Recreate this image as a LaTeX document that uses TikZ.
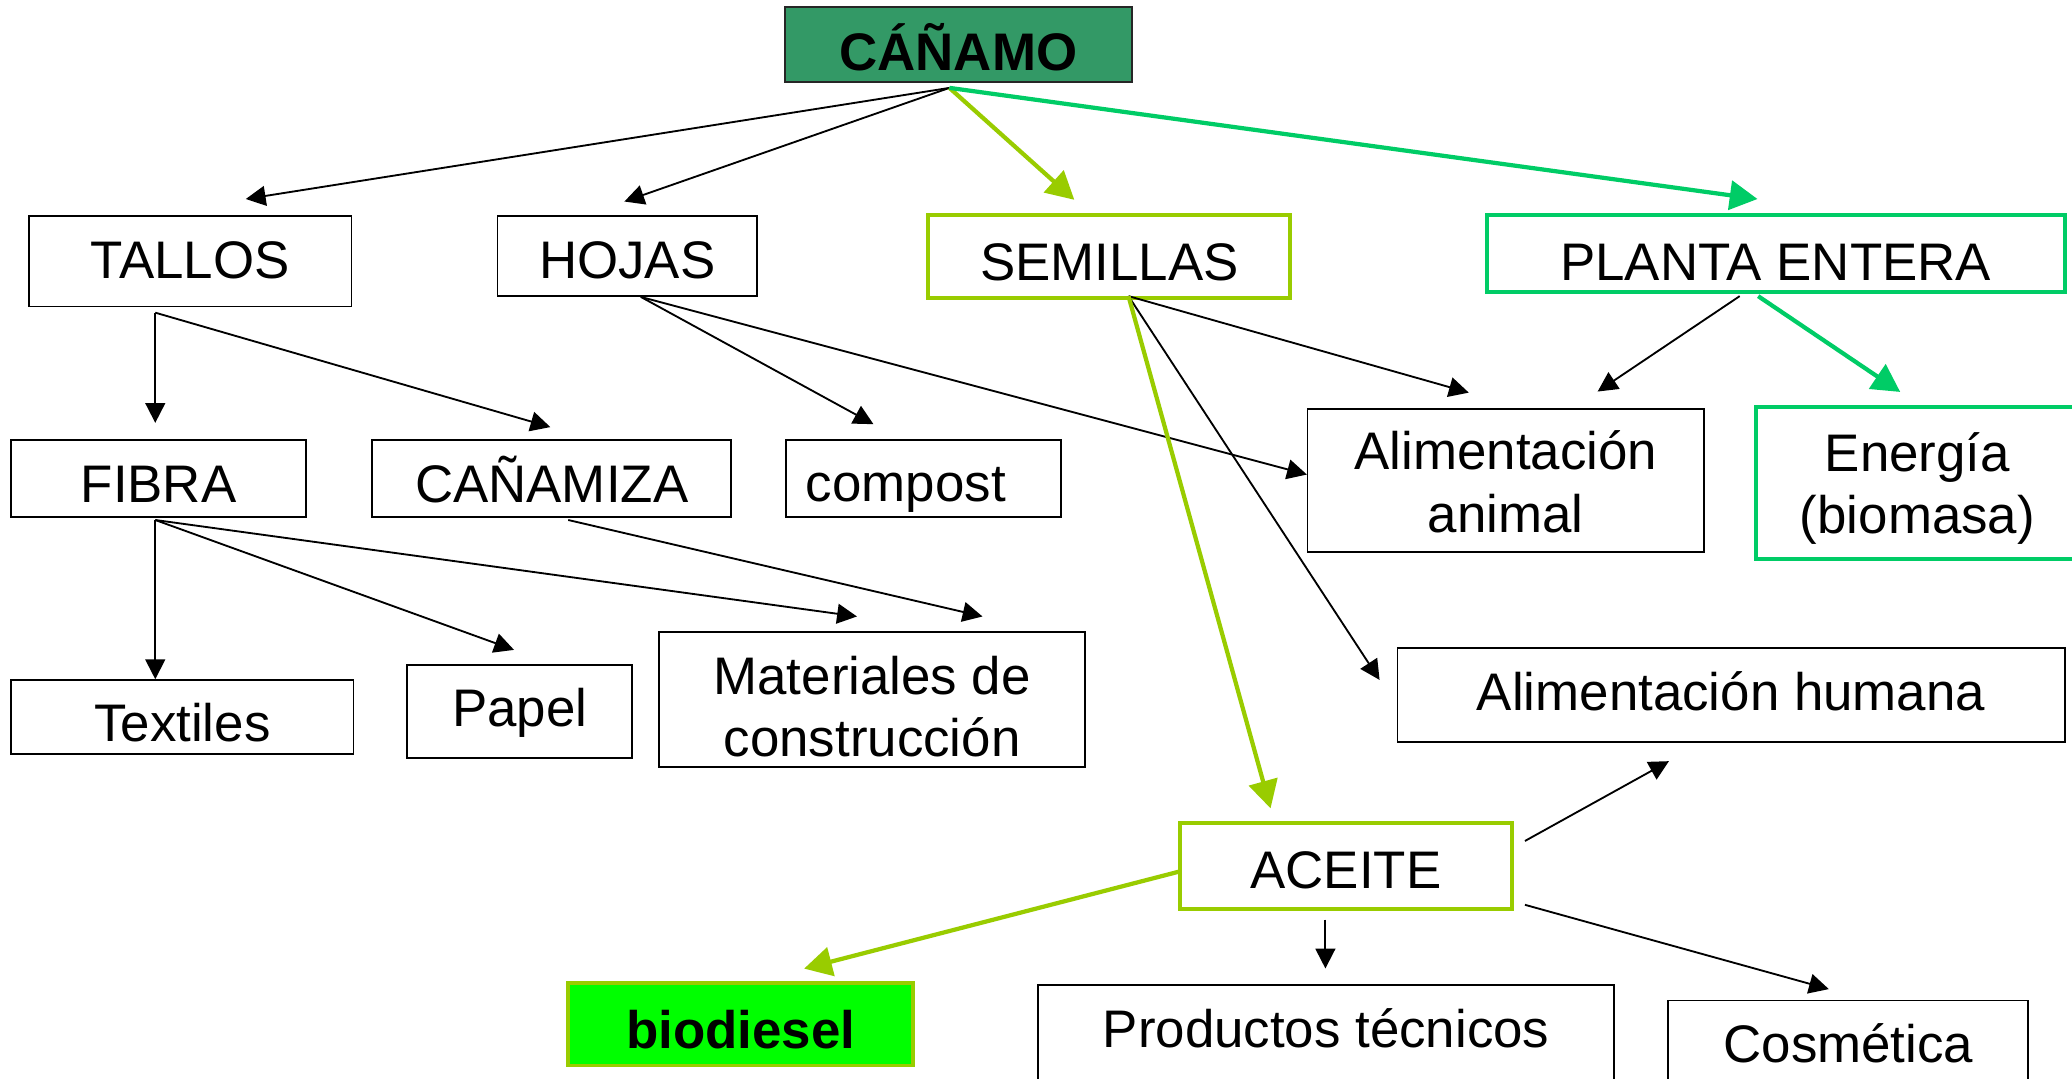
\documentclass[tikz,border=0pt]{standalone}
\usepackage{fontspec}
\setmainfont{Liberation Sans}
\usetikzlibrary{arrows.meta}
\definecolor{darkg}{HTML}{339966}
\definecolor{limeg}{HTML}{99CC00}
\definecolor{brightg}{HTML}{00CC66}
\definecolor{neong}{HTML}{00FF00}
\newcommand\bx[2]{\smash{\raisebox{-#1}{#2}}}
\newcommand\twol[2]{\begin{tabular}[t]{@{}c@{}}#1\\#2\end{tabular}}
\begin{document}
\begin{tikzpicture}[x=0.5pt,y=-0.5pt,
  every node/.style={inner sep=0pt, outer sep=0pt, font=\fontsize{20}{23.5}\selectfont},
  box/.style={draw=black, line width=0.7pt},
  limebox/.style={draw=limeg, line width=1.5pt},
  greenbox/.style={draw=brightg, line width=1.5pt},
  rootbox/.style={draw=black!85, fill=darkg, line width=0.7pt, font=\fontsize{20}{23.5}\selectfont\bfseries},
  biobox/.style={draw=limeg, fill=neong, line width=1.5pt, font=\fontsize{20}{23.5}\selectfont\bfseries},
  arr/.style={draw=black, line width=0.7pt, -{Triangle[length=7.5pt,width=7.5pt]}},
  larr/.style={draw=limeg, line width=1.6pt, -{Triangle[length=10.5pt,width=11pt]}},
  garr/.style={draw=brightg, line width=1.6pt, -{Triangle[length=10.5pt,width=11pt]}}
]
\path[use as bounding box] (0,0) rectangle (1568,816);
\clip (0,0) rectangle (1568,816);
\fill[white] (0,0) rectangle (1568,816);

% boxes
\node[rootbox, minimum width=131.15pt, minimum height=28.15pt] (canamo) at (725.25,33.65) {\bx{9.93pt}{CÁÑAMO}};
\node[box, minimum width=122pt, minimum height=34.15pt] (tallos) at (144,197.75) {\bx{6.68pt}{TALLOS}};
\node[box, minimum width=98.25pt, minimum height=30.2pt] (hojas) at (474.75,193.9) {\bx{8.6pt}{HOJAS}};
\node[limebox, minimum width=137pt, minimum height=31.3pt] (semillas) at (839.5,194.1) {\bx{9.15pt}{SEMILLAS}};
\node[greenbox, minimum width=218.75pt, minimum height=29.1pt] (planta) at (1343.75,191.9) {\bx{10.25pt}{PLANTA ENTERA}};
\node[box, minimum width=111.5pt, minimum height=29.2pt] (fibra) at (120,362.2) {\bx{9.15pt}{FIBRA}};
\node[box, minimum width=136pt, minimum height=29.2pt] (canamiza) at (417.5,362.2) {\bx{9.15pt}{CAÑAMIZA}};
\node[box, minimum width=104.25pt, minimum height=29.2pt] (compost) at (698.75,362.2) {\bx{8.5pt}{\makebox[0pt]{compost\hspace*{13.25pt}}}};
\node[box, minimum width=150pt, minimum height=54.15pt] (alimA) at (1139.5,363.45) {\bx{-3.9pt}{\twol{Alimentación}{animal}}};
\node[greenbox, minimum width=122pt, minimum height=57.25pt] (energia) at (1451,365.55) {\bx{-4.28pt}{\twol{Energía}{(biomasa)}}};
\node[box, minimum width=129.5pt, minimum height=28.15pt] (textiles) at (138,542.65) {\bx{9.38pt}{Textiles}};
\node[box, minimum width=85.25pt, minimum height=35.2pt] (papel) at (393.25,538.2) {\bx{5.85pt}{Papel}};
\node[box, minimum width=161pt, minimum height=51.1pt] (materiales) at (660,529.4) {\bx{-1.85pt}{\twol{Materiales de}{construcción}}};
\node[box, minimum width=252.5pt, minimum height=35.45pt] (alimH) at (1310,525.95) {\bx{5.78pt}{Alimentación humana}};
\node[limebox, minimum width=125.5pt, minimum height=32.6pt] (aceite) at (1018.5,655.5) {\bx{8.5pt}{ACEITE}};
\node[biobox, minimum width=130.5pt, minimum height=31.25pt] (biodiesel) at (560.5,775.05) {\bx{9.28pt}{biodiesel}};
\node[box, minimum width=218pt, minimum height=42.45pt] (productos) at (1003.5,787.55) {\bx{2.38pt}{Productos técnicos}};
\node[box, minimum width=136.25pt, minimum height=36.45pt] (cosmetica) at (1398.75,793.55) {\bx{5.13pt}{Cosmética}};

% connector end points
\coordinate (canamoOut) at (718.5,66.5);
\coordinate (tallosIn) at (186,150.6);
\coordinate (hojasIn) at (472.5,152.5);
\coordinate (semillasIn) at (813,151.2);
\coordinate (plantaIn) at (1330,150.6);
\coordinate (tallosOut) at (117.5,236.6);
\coordinate (fibraIn) at (117.5,320);
\coordinate (canamizaIn) at (416.5,323.2);
\coordinate (hojasOut) at (485,224.7);
\coordinate (compostIn) at (661,321);
\coordinate (alimAInH) at (989,359.1);
\coordinate (semillasOut) at (854,224.1);
\coordinate (alimAInS) at (1111.5,297.1);
\coordinate (alimHInS) at (1044,514.5);
\coordinate (aceiteIn) at (961.5,611.7);
\coordinate (plantaOutA) at (1316.5,224.1);
\coordinate (alimAInP) at (1209,296.3);
\coordinate (plantaOutB) at (1330.5,224.1);
\coordinate (energiaIn) at (1438,296.6);
\coordinate (fibraOut) at (117.5,393.5);
\coordinate (textilesIn) at (117.5,514);
\coordinate (papelIn) at (389,491.8);
\coordinate (matInF) at (648.5,466.5);
\coordinate (canamizaOut) at (430,393.5);
\coordinate (matInC) at (743.5,466.5);
\coordinate (aceiteOutW) at (893,659.4);
\coordinate (biodieselIn) at (608.5,733);
\coordinate (aceiteOutNE) at (1154,636.4);
\coordinate (alimHInA) at (1263,576);
\coordinate (aceiteOutS) at (1003,695.9);
\coordinate (productosIn) at (1003,732.9);
\coordinate (aceiteOutSE) at (1154,684.7);
\coordinate (cosmeticaIn) at (1384,748.5);

% black connectors
\draw[arr] (canamoOut) -- (tallosIn);
\draw[arr] (canamoOut) -- (hojasIn);
\draw[arr] (tallosOut) -- (fibraIn);
\draw[arr] (tallosOut) -- (canamizaIn);
\draw[arr] (hojasOut) -- (compostIn);
\draw[arr] (hojasOut) -- (alimAInH);
\draw[arr] (semillasOut) -- (alimAInS);
\draw[arr] (semillasOut) -- (alimHInS);
\draw[arr] (plantaOutA) -- (alimAInP);
\draw[arr] (fibraOut) -- (textilesIn);
\draw[arr] (fibraOut) -- (papelIn);
\draw[arr] (fibraOut) -- (matInF);
\draw[arr] (canamizaOut) -- (matInC);
\draw[arr] (aceiteOutNE) -- (alimHInA);
\draw[arr] (aceiteOutS) -- (productosIn);
\draw[arr] (aceiteOutSE) -- (cosmeticaIn);

% green connectors
\draw[larr] (canamoOut) -- (semillasIn);
\draw[garr] (canamoOut) -- (plantaIn);
\draw[larr] (semillasOut) -- (aceiteIn);
\draw[garr] (plantaOutB) -- (energiaIn);
\draw[larr] (aceiteOutW) -- (biodieselIn);
\end{tikzpicture}
\end{document}
